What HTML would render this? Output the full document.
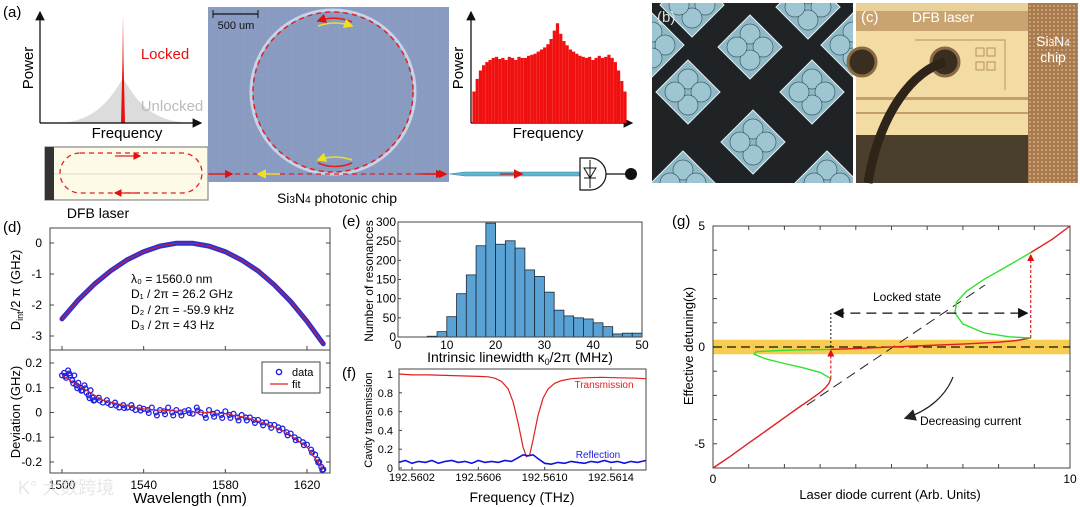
<!DOCTYPE html>
<html><head><meta charset="utf-8">
<style>
html,body{margin:0;padding:0;background:#fff;}
svg{display:block;font-family:"Liberation Sans",Arial,sans-serif;}
</style></head>
<body>
<svg id="fig" width="1080" height="507" viewBox="0 0 1080 507">
<defs>
<marker id="arR" markerWidth="6" markerHeight="6" refX="5" refY="3" orient="auto"><path d="M0,0 L6,3 L0,6z" fill="#e01010"/></marker>
<marker id="arY" markerWidth="6" markerHeight="6" refX="5" refY="3" orient="auto"><path d="M0,0 L6,3 L0,6z" fill="#f0e020"/></marker>
<marker id="arK" markerWidth="8" markerHeight="8" refX="7" refY="4" orient="auto"><path d="M0,0 L8,4 L0,8z" fill="#111"/></marker>
<marker id="arKs" markerWidth="8" markerHeight="8" refX="1" refY="4" orient="auto"><path d="M8,0 L0,4 L8,8z" fill="#111"/></marker>
<marker id="arK2" markerWidth="10" markerHeight="10" refX="8" refY="5" orient="auto"><path d="M0,0 L10,5 L0,10z" fill="#222"/></marker>
<pattern id="grid" width="6" height="6" patternUnits="userSpaceOnUse"><path d="M6,0 L0,0 0,6" fill="none" stroke="#7f90b6" stroke-width="0.6"/></pattern>
<pattern id="dots" width="4" height="4" patternUnits="userSpaceOnUse"><rect width="4" height="4" fill="#a87a50"/><circle cx="2" cy="2" r="1" fill="#d9aa78"/></pattern>
<clipPath id="clipB"><rect x="652" y="3" width="201" height="180"/></clipPath>
</defs>

<!-- ===== Panel (a) ===== -->
<g>
<text x="3" y="17" font-size="15">(a)</text>
<g>
<path d="M60,123 C95,121 110,100 123,78 C136,100 150,121 190,123Z" fill="#dcdcdc"/>
<path d="M121,123 L122.5,60 L123,15 L123.5,60 L125,123Z" fill="#e81010"/>
<line x1="40" y1="123" x2="40" y2="12" stroke="#000" stroke-width="1.2" marker-end="url(#arK)"/>
<line x1="40" y1="123" x2="201" y2="123" stroke="#000" stroke-width="1.2" marker-end="url(#arK)"/>
<text x="33" y="68" font-size="15" transform="rotate(-90 33 68)" text-anchor="middle">Power</text>
<text x="127" y="138" font-size="15" text-anchor="middle">Frequency</text>
<text x="165" y="59" font-size="15" fill="#e81010" text-anchor="middle">Locked</text>
<text x="172" y="111" font-size="15" fill="#bbb" text-anchor="middle">Unlocked</text>
</g>
<g>
<rect x="45" y="147" width="163" height="53" fill="#fdfbe8" stroke="#888" stroke-width="1.2"/>
<rect x="45" y="147" width="9" height="53" fill="#333"/>
<rect x="60" y="153" width="142" height="40" rx="20" fill="none" stroke="#e02020" stroke-width="1.3" stroke-dasharray="5,4"/>
<line x1="115" y1="156" x2="140" y2="156" stroke="#e02020" stroke-width="1.3" marker-end="url(#arR)"/>
<line x1="140" y1="193" x2="115" y2="193" stroke="#e02020" stroke-width="1.3" marker-end="url(#arR)"/>
<line x1="54" y1="174" x2="208" y2="174" stroke="#ccc" stroke-width="0.8"/>
<text x="98" y="218" font-size="14" text-anchor="middle">DFB laser</text>
</g>
<g>
<rect x="208" y="7" width="241" height="175" fill="#8a9cc2"/>
<rect x="208" y="7" width="241" height="175" fill="url(#grid)" opacity="0.5"/>
<circle cx="333" cy="92" r="82" fill="none" stroke="#c8d2e8" stroke-width="3"/>
<circle cx="333" cy="92" r="80" fill="none" stroke="#e02020" stroke-width="1.5" stroke-dasharray="5,4"/>
<path d="M352,22 Q335,15 318,21" fill="none" stroke="#e02020" stroke-width="1.6" marker-end="url(#arR)"/>
<path d="M318,26 Q335,20 352,26" fill="none" stroke="#f0e020" stroke-width="1.6" marker-end="url(#arY)"/>
<path d="M318,163 Q335,170 352,163" fill="none" stroke="#e02020" stroke-width="1.6"/>
<path d="M352,160 Q335,154 318,160" fill="none" stroke="#f0e020" stroke-width="1.6" marker-end="url(#arY)"/>
<line x1="213" y1="14" x2="258" y2="14" stroke="#111" stroke-width="1.2"/>
<line x1="213" y1="10" x2="213" y2="18" stroke="#111"/><line x1="258" y1="10" x2="258" y2="18" stroke="#111"/>
<text x="236" y="29" font-size="11" text-anchor="middle" fill="#111">500 um</text>
<line x1="208" y1="174" x2="448" y2="174" stroke="#e02020" stroke-width="1.3" stroke-dasharray="5,4"/>
<line x1="210" y1="174" x2="232" y2="174" stroke="#e02020" stroke-width="1.4" marker-end="url(#arR)"/>
<line x1="280" y1="174" x2="258" y2="174" stroke="#f0e020" stroke-width="1.6" marker-end="url(#arY)"/>
<line x1="425" y1="174" x2="446" y2="174" stroke="#e02020" stroke-width="1.4" marker-end="url(#arR)"/>
<text x="337" y="203" font-size="14" text-anchor="middle">Si<tspan font-size="10">3</tspan>N<tspan font-size="10">4</tspan> photonic chip</text>
</g>
<g>
<path d="M449,174 L465,172 L580,172 L580,176 L465,176Z" fill="#5fb4d0" stroke="#3a8aa8" stroke-width="0.6"/>
<line x1="420" y1="174" x2="443" y2="174" stroke="#e02020" stroke-width="1.4" marker-end="url(#arR)"/>
<line x1="500" y1="174" x2="522" y2="174" stroke="#c03030" stroke-width="1.6" marker-end="url(#arR)"/>
<path d="M580,158 L590,158 A16,16 0 0 1 590,190 L580,190Z" fill="#fff" stroke="#111" stroke-width="1.2"/>
<path d="M584,168 L596,168 L590,178Z M584,178 L596,178 M590,160 L590,188" fill="none" stroke="#111" stroke-width="1"/>
<line x1="606" y1="174" x2="628" y2="174" stroke="#111" stroke-width="1.2"/>
<circle cx="631" cy="174" r="6" fill="#111"/>
</g>
<g id="comb">
<line x1="471" y1="123" x2="471" y2="12" stroke="#000" stroke-width="1.2" marker-end="url(#arK)"/>
<line x1="471" y1="123" x2="632" y2="123" stroke="#000" stroke-width="1.2" marker-end="url(#arK)"/>
<text x="463" y="68" font-size="15" transform="rotate(-90 463 68)" text-anchor="middle">Power</text>
<text x="548" y="138" font-size="15" text-anchor="middle">Frequency</text>
</g>
</g>

<!-- ===== Panel (b) ===== -->
<g id="pb">
<rect x="652" y="3" width="201" height="180" fill="#202325"/>
<g id="pbd" clip-path="url(#clipB)"></g>
<text x="657" y="22" font-size="15" fill="#ddd">(b)</text>
</g>
<!-- ===== Panel (c) ===== -->
<g>
<rect x="856" y="3" width="222" height="180" fill="#5a4a30"/>
<rect x="856" y="3" width="172" height="8" fill="#e9cf98"/>
<rect x="856" y="11" width="172" height="20" fill="#c9a470"/>
<rect x="856" y="31" width="172" height="104" fill="#f2dca4"/>
<rect x="856" y="97" width="172" height="3" fill="#c4a068"/>
<rect x="856" y="112" width="172" height="2" fill="#c4a068"/>
<rect x="856" y="135" width="172" height="48" fill="#4a3e2c"/>
<rect x="1028" y="3" width="50" height="180" fill="url(#dots)"/>
<path d="M915,40 L1005,40 L1005,90" fill="none" stroke="#c4a068" stroke-width="1.2"/>
<rect x="976" y="48" width="8" height="8" fill="none" stroke="#b89060"/><rect x="987" y="48" width="8" height="8" fill="none" stroke="#b89060"/>
<rect x="976" y="62" width="8" height="8" fill="none" stroke="#b89060"/><rect x="987" y="62" width="8" height="8" fill="none" stroke="#b89060"/>
<circle cx="945" cy="62" r="14" fill="#3a2e20" stroke="#8a6a40" stroke-width="3"/>
<circle cx="862" cy="62" r="14" fill="#3a2e20" stroke="#8a6a40" stroke-width="3"/>
<path d="M945,62 C915,70 880,110 868,183" fill="none" stroke="#2e2418" stroke-width="9"/>
<text x="943" y="22" font-size="14" fill="#fff" text-anchor="middle">DFB laser</text>
<text x="1053" y="46" font-size="14" fill="#fff" text-anchor="middle">Si<tspan font-size="10">3</tspan>N<tspan font-size="10">4</tspan></text>
<text x="1053" y="62" font-size="14" fill="#fff" text-anchor="middle">chip</text>
<text x="861" y="22" font-size="15" fill="#fff">(c)</text>
</g>

<g id="pd">
<text x="3" y="232" font-size="15">(d)</text>
</g>
<g id="pe">
<text x="342" y="226" font-size="15">(e)</text>
</g>
<g id="pf">
<text x="342" y="378" font-size="15">(f)</text>
</g>
<g id="pg">
<text x="672" y="226" font-size="15">(g)</text>
</g>
<text x="18" y="494" font-size="18" fill="#ddd" opacity="0.7">K° 大数跨境</text>
</svg>

<script>
// ---------- DATA ----------
const combHeights = [0.30,0.42,0.50,0.55,0.58,0.60,0.62,0.63,0.61,0.62,0.60,0.63,0.62,0.60,0.63,0.62,0.62,0.64,0.65,0.66,0.68,0.70,0.72,0.75,0.80,0.88,0.95,0.85,0.78,0.74,0.70,0.68,0.66,0.64,0.63,0.62,0.63,0.60,0.62,0.64,0.62,0.63,0.65,0.62,0.58,0.50,0.40,0.30];
const diamondCenters = [[750,47],[688,92],[812,92],[753,142],[683,183],[808,7],[692,5],[827,183],[652,45],[853,45]];

const dWl = [1500,1508,1516,1524,1532,1540,1548,1556,1564,1572,1580,1588,1596,1604,1612,1620,1628];
const dDint = [-2.45,-1.84,-1.32,-0.89,-0.54,-0.28,-0.10,-0.01,-0.01,-0.10,-0.28,-0.55,-0.90,-1.35,-1.89,-2.53,-3.25];

const devWl = [1500,1501,1502,1503,1504,1505,1506,1507,1508,1509,1510,1511,1512,1513,1514,1515,1516,1518,1520,1522,1524,1526,1528,1530,1532,1534,1536,1538,1540,1542,1544,1546,1548,1550,1552,1554,1556,1558,1560,1562,1564,1566,1568,1570,1572,1574,1576,1578,1580,1582,1584,1586,1588,1590,1592,1594,1596,1598,1600,1602,1604,1606,1608,1610,1612,1614,1616,1618,1620,1622,1624,1625,1626,1627,1628];
const devVal = [0.15,0.16,0.14,0.17,0.15,0.13,0.15,0.11,0.12,0.10,0.09,0.11,0.08,0.07,0.09,0.06,0.05,0.06,0.04,0.05,0.03,0.04,0.02,0.03,0.02,0.03,0.01,0.02,0.015,0.01,0.02,0.0,0.01,0.005,0.02,0.0,0.01,0.0,0.005,0.01,-0.005,0.02,0.0,-0.01,0.01,-0.005,0.0,-0.01,0.005,-0.01,-0.005,-0.02,-0.01,-0.02,-0.02,-0.03,-0.03,-0.04,-0.04,-0.05,-0.05,-0.06,-0.065,-0.08,-0.085,-0.10,-0.11,-0.12,-0.13,-0.15,-0.17,-0.19,-0.20,-0.22,-0.23];
const devFitWl = [1500,1510,1520,1530,1540,1550,1560,1570,1580,1590,1600,1610,1620,1628];
const devFit = [0.15,0.10,0.05,0.03,0.015,0.008,0.005,0.0,-0.005,-0.02,-0.045,-0.08,-0.14,-0.23];

const histBinStart = [6,8,10,12,14,16,18,20,22,24,26,28,30,32,34,36,38,40,42,44,46,48];
const histCounts = [2,14,53,113,162,238,297,242,251,232,175,158,117,70,55,50,47,37,27,8,10,10];

const fFreq = [192.56012,192.56020,192.56030,192.56040,192.56050,192.56060,192.56066,192.56070,192.56074,192.56078,192.56081,192.56084,192.56087,192.56089,192.56091,192.56093,192.56096,192.56099,192.56102,192.56106,192.56110,192.56116,192.56124,192.56134,192.56145,192.56155,192.56161];
const fTrans = [1.0,0.99,0.99,0.985,0.98,0.975,0.97,0.955,0.92,0.84,0.70,0.48,0.22,0.12,0.14,0.30,0.56,0.74,0.84,0.90,0.93,0.95,0.96,0.965,0.96,0.955,0.95];
const rFreq = [192.56012,192.56016,192.56020,192.56024,192.56028,192.56032,192.56036,192.56040,192.56044,192.56048,192.56052,192.56056,192.56060,192.56064,192.56068,192.56072,192.56076,192.56080,192.56084,192.56087,192.56090,192.56093,192.56096,192.56100,192.56104,192.56108,192.56112,192.56116,192.56120,192.56124,192.56128,192.56132,192.56136,192.56140,192.56144,192.56148,192.56152,192.56156,192.56161];
const rRefl = [0.06,0.08,0.05,0.07,0.06,0.08,0.05,0.07,0.08,0.06,0.07,0.05,0.08,0.06,0.07,0.06,0.08,0.07,0.11,0.14,0.13,0.14,0.10,0.05,0.04,0.06,0.05,0.07,0.06,0.05,0.07,0.06,0.08,0.06,0.07,0.05,0.07,0.06,0.08];

const gRedLowX = [0,0.5,1,1.5,2,2.4,2.7,3.0,3.15,3.25,3.3];
const gRedLowY = [-5,-4.5,-3.97,-3.45,-2.92,-2.5,-2.2,-1.88,-1.68,-1.5,-1.3];
const gGreenLowX = [3.3,3.0,2.5,2.0,1.5,1.15,1.2,1.6,2.2,2.8,3.3];
const gGreenLowY = [-1.3,-1.05,-0.85,-0.68,-0.5,-0.3,-0.2,-0.16,-0.13,-0.11,-0.1];
const gRedMidX = [3.3,4,5,6,7,8,8.5,8.9];
const gRedMidY = [-0.1,-0.06,0.0,0.06,0.12,0.2,0.27,0.37];
const gGreenUpX = [8.9,8.3,7.6,7.0,6.78,6.82,7.1,7.6,8.2,8.9];
const gGreenUpY = [0.37,0.42,0.58,0.95,1.4,1.85,2.3,2.8,3.3,3.9];
const gRedUpX = [8.9,9.5,10];
const gRedUpY = [3.9,4.45,5.0];
const gDashX = [2.63,7.62];
const gDashY = [-2.4,2.56];

// ---------- helpers ----------
const NS='http://www.w3.org/2000/svg';
function mk(parent,tag,attrs){const e=document.createElementNS(NS,tag);for(const k in attrs)e.setAttribute(k,attrs[k]);parent.appendChild(e);return e;}
function txt(parent,x,y,s,attrs){const e=mk(parent,'text',Object.assign({x:x,y:y,'font-size':12},attrs||{}));e.textContent=s;return e;}
function lin(d0,d1,r0,r1){return v=>r0+(v-d0)/(d1-d0)*(r1-r0);}
function pathFrom(xs,ys,sx,sy){return xs.map((v,i)=>(i?'L':'M')+sx(v).toFixed(1)+','+sy(ys[i]).toFixed(1)).join(' ');}

// ---------- comb ----------
(function(){
const g=document.getElementById('comb');
const sx=lin(0,combHeights.length-1,474,625), sy=lin(0,1,123,18);
combHeights.forEach((h,i)=>{
 const l=mk(g,'rect',{x:sx(i)-1.6,y:sy(h),width:3.2,height:123-sy(h),fill:'#f01010'});
 
 
});
})();
// ---------- panel b diamonds ----------
(function(){
const g=document.getElementById('pbd');
diamondCenters.forEach(c=>{
 const [cx,cy]=c, r=32;
 const d=mk(g,'path',{d:`M${cx},${cy-r} L${cx+r},${cy} L${cx},${cy+r} L${cx-r},${cy}Z`,fill:'#8fb9c6',stroke:'#e6eef0','stroke-width':1});
 
 
 [[0,-13],[13,0],[0,13],[-13,0]].forEach(o=>mk(g,'circle',{cx:cx+o[0],cy:cy+o[1],r:10,fill:'#9ec6d2',stroke:'#3e5a64','stroke-width':0.7}));
});
})();

// ---------- panel d ----------
(function(){
const g=document.getElementById('pd');
const X0=50,X1=330, T0=228,T1=350,B1=473;
const sx=lin(1500,1620,62,307);
const syT=lin(0,-3,243,336), syB=lin(0.2,-0.2,363,462);
mk(g,'rect',{x:X0,y:T0,width:X1-X0,height:B1-T0,fill:'none',stroke:'#444','stroke-width':1});
mk(g,'line',{x1:X0,y1:T1,x2:X1,y2:T1,stroke:'#444'});
[0,-1,-2,-3].forEach(v=>{const y=syT(v);mk(g,'line',{x1:X0,y1:y,x2:X0+4,y2:y,stroke:'#444'});mk(g,'line',{x1:X1,y1:y,x2:X1-4,y2:y,stroke:'#444'});
 const t=txt(g,X0-8,y+4,String(v),{'text-anchor':'end'});});
[0.2,0.1,0,-0.1,-0.2].forEach(v=>{const y=syB(v);mk(g,'line',{x1:X0,y1:y,x2:X0+4,y2:y,stroke:'#444'});mk(g,'line',{x1:X1,y1:y,x2:X1-4,y2:y,stroke:'#444'});
 const t=txt(g,X0-8,y+4,String(v),{'text-anchor':'end'});});
[1500,1540,1580,1620].forEach(v=>{const x=sx(v);mk(g,'line',{x1:x,y1:B1,x2:x,y2:B1-4,stroke:'#444'});mk(g,'line',{x1:x,y1:T1,x2:x,y2:T1-4,stroke:'#444'});
 const t=txt(g,x,489,String(v),{'text-anchor':'middle'});});
let t=txt(g,190,503,'Wavelength (nm)',{'text-anchor':'middle','font-size':15});
t=txt(g,20,290,'',{'text-anchor':'middle','font-size':13,transform:'rotate(-90 20 290)'});t.innerHTML='D<tspan font-size="9" dy="3">int</tspan><tspan dy="-3">/2 π (GHz)</tspan>';

t=txt(g,20,412,'Deviation (GHz)',{'text-anchor':'middle','font-size':13,transform:'rotate(-90 20 412)'});
const dp=pathFrom(dWl,dDint,sx,syT);
let p=mk(g,'path',{d:dp,fill:'none',stroke:'#3030d0','stroke-width':5,'stroke-linecap':'round'});
p=mk(g,'path',{d:dp,fill:'none',stroke:'#c02040','stroke-width':1.2});
const ann=[['λ₀ = 1560.0 nm',283],['D₁ / 2π = 26.2 GHz',298],['D₂ / 2π = -59.9 kHz',314],['D₃ / 2π = 43 Hz',329]];
ann.forEach(a=>{const e=txt(g,131,a[1],a[0],{'font-size':12});});
devWl.forEach((w,i)=>{const c=mk(g,'circle',{cx:sx(w),cy:syB(devVal[i]),r:2.4,fill:'none',stroke:'#2020e0','stroke-width':1.3});
 });
devWl.forEach((w,i)=>{if(i%2)mk(g,'circle',{cx:sx(w)+1,cy:syB(devVal[i])+3,r:2.4,fill:'none',stroke:'#2020e0','stroke-width':1.3});});
p=mk(g,'path',{d:pathFrom(devFitWl,devFit,sx,syB),fill:'none',stroke:'#e02020','stroke-width':1});
const lg=mk(g,'g',{});
mk(lg,'rect',{x:262,y:362,width:58,height:31,fill:'#fff',stroke:'#444'});
mk(lg,'circle',{cx:279,cy:372,r:2.6,fill:'none',stroke:'#2020e0','stroke-width':1.4});
txt(lg,292,376,'data',{'font-size':11});
mk(lg,'line',{x1:270,y1:384,x2:288,y2:384,stroke:'#e02020','stroke-width':1.3});
txt(lg,292,388,'fit',{'font-size':11});
})();

// ---------- panel e ----------
(function(){
const g=document.getElementById('pe');
const X0=398,X1=642,Y0=337,Y1=222;
const sx=lin(0,50,X0,X1), sy=lin(0,300,Y0,Y1);
histBinStart.forEach((b,i)=>{const r=mk(g,'rect',{x:sx(b),y:sy(histCounts[i]),width:sx(b+2)-sx(b),height:Y0-sy(histCounts[i]),fill:'#5aa2d4',stroke:'#1a2a3a','stroke-width':0.8});
 });
mk(g,'rect',{x:X0,y:Y1,width:X1-X0,height:Y0-Y1,fill:'none',stroke:'#444'});
[0,50,100,150,200,250,300].forEach(v=>{const y=sy(v);mk(g,'line',{x1:X0,y1:y,x2:X0+3,y2:y,stroke:'#444'});
 const t=txt(g,X0-2,y+4,String(v),{'text-anchor':'end','font-size':12});});
[0,10,20,30,40,50].forEach(v=>{const x=sx(v);mk(g,'line',{x1:x,y1:Y0,x2:x,y2:Y0-3,stroke:'#444'});
 const t=txt(g,x,349,String(v),{'text-anchor':'middle','font-size':12});});
let t=txt(g,520,362,'',{'text-anchor':'middle','font-size':14});t.innerHTML='Intrinsic linewidth κ<tspan font-size="9" dy="3">0</tspan><tspan dy="-3">/2π (MHz)</tspan>';

t=txt(g,373,281,'Number of resonances',{'text-anchor':'middle','font-size':12,transform:'rotate(-90 373 281)'});
})();

// ---------- panel f ----------
(function(){
const g=document.getElementById('pf');
const X0=399,X1=646,Y0=470,Y1=369;
const sx=lin(192.5602,192.5614,412,611), sy=lin(0,1,468,374);
mk(g,'rect',{x:X0,y:Y1,width:X1-X0,height:Y0-Y1,fill:'none',stroke:'#444'});
[0,0.2,0.4,0.6,0.8,1].forEach(v=>{const y=sy(v);mk(g,'line',{x1:X0,y1:y,x2:X0+3,y2:y,stroke:'#444'});
 const t=txt(g,X0-6,y+4,String(v),{'text-anchor':'end','font-size':11});});
[192.5602,192.5606,192.561,192.5614].forEach(v=>{const x=sx(v);mk(g,'line',{x1:x,y1:Y0,x2:x,y2:Y0-3,stroke:'#444'});
 const t=txt(g,x,481,v.toFixed(4),{'text-anchor':'middle','font-size':11});});
let t=txt(g,522,502,'Frequency (THz)',{'text-anchor':'middle','font-size':14});
t=txt(g,372,420,'Cavity transmission',{'text-anchor':'middle','font-size':11,transform:'rotate(-90 372 420)'});
let p=mk(g,'path',{d:pathFrom(fFreq,fTrans,sx,sy),fill:'none',stroke:'#e02020','stroke-width':1.2});
p=mk(g,'path',{d:pathFrom(rFreq,rRefl,sx,sy),fill:'none',stroke:'#1010e0','stroke-width':1.6});
t=txt(g,604,388,'Transmission',{'text-anchor':'middle','font-size':10,fill:'#e02020'});
t=txt(g,598,458,'Reflection',{'text-anchor':'middle','font-size':10,fill:'#2020e0'});
})();

// ---------- panel g ----------
(function(){
const g=document.getElementById('pg');
const X0=713,X1=1070,Y0=468,Y1=226;
const sx=lin(0,10,X0,X1), sy=lin(5,-5,226,468);
let b=mk(g,'rect',{x:X0,y:sy(0.3),width:X1-X0,height:sy(-0.3)-sy(0.3),fill:'#f8cc50'});
mk(g,'rect',{x:X0,y:Y1,width:X1-X0,height:Y0-Y1,fill:'none',stroke:'#444'});
[5,4,3,2,1,0,-1,-2,-3,-4,-5].forEach(v=>{const y=sy(v);mk(g,'line',{x1:X0,y1:y,x2:X0+4,y2:y,stroke:'#444'});mk(g,'line',{x1:X1,y1:y,x2:X1-4,y2:y,stroke:'#444'});});
[[5,5],[0,0],[-5,-4]].forEach(a=>{const t=txt(g,X0-8,sy(a[1])+4,String(a[0]),{'text-anchor':'end','font-size':12});});
[1,2,3,4,5,6,7,8,9].forEach(v=>{const x=sx(v);mk(g,'line',{x1:x,y1:Y0,x2:x,y2:Y0-4,stroke:'#444'});mk(g,'line',{x1:x,y1:Y1,x2:x,y2:Y1+4,stroke:'#444'});});
[0,10].forEach(v=>{const t=txt(g,sx(v),483,String(v),{'text-anchor':'middle','font-size':12});});
let t=txt(g,890,499,'Laser diode current (Arb. Units)',{'text-anchor':'middle','font-size':13});
t=txt(g,693,346,'Effective detuning(κ)',{'text-anchor':'middle','font-size':13,transform:'rotate(-90 693 346)'});
mk(g,'line',{x1:X0,y1:sy(0),x2:X1,y2:sy(0),stroke:'#111','stroke-width':1.2,'stroke-dasharray':'9,5'});
let p=mk(g,'path',{d:pathFrom(gDashX,gDashY,sx,sy),fill:'none',stroke:'#222','stroke-width':1,'stroke-dasharray':'10,6'});
[[gRedLowX,gRedLowY,'#e02020','red-branch-low'],[gGreenLowX,gGreenLowY,'#30e030','green-branch-low'],[gRedMidX,gRedMidY,'#e02020','red-branch-locked'],[gGreenUpX,gGreenUpY,'#30e030','green-branch-up'],[gRedUpX,gRedUpY,'#e02020','red-branch-up']].forEach(s=>{
 const q=mk(g,'path',{d:pathFrom(s[0],s[1],sx,sy),fill:'none',stroke:s[2],'stroke-width':1.4});});
mk(g,'line',{x1:sx(3.3),y1:sy(-1.3),x2:sx(3.3),y2:sy(-0.15),stroke:'#e02020','stroke-width':1.2,'stroke-dasharray':'3,2','marker-end':'url(#arR)'});
mk(g,'line',{x1:sx(8.9),y1:sy(0.37),x2:sx(8.9),y2:sy(3.8),stroke:'#e02020','stroke-width':1.2,'stroke-dasharray':'3,2','marker-end':'url(#arR)'});
mk(g,'line',{x1:sx(3.3),y1:sy(0),x2:sx(3.3),y2:sy(1.4),stroke:'#111','stroke-width':1,'stroke-dasharray':'2,2'});
p=mk(g,'line',{x1:sx(3.4),y1:sy(1.4),x2:sx(8.8),y2:sy(1.4),stroke:'#111','stroke-width':1.3,'stroke-dasharray':'10,6','marker-end':'url(#arK)','marker-start':'url(#arKs)'});
t=txt(g,873,301,'Locked state',{'font-size':12});
mk(g,'path',{d:'M953,377 C946,395 930,410 906,418',fill:'none',stroke:'#222','stroke-width':1.2,'marker-end':'url(#arK2)'});
t=txt(g,920,425,'Decreasing current',{'font-size':12});
})();
</script>
</body></html>
